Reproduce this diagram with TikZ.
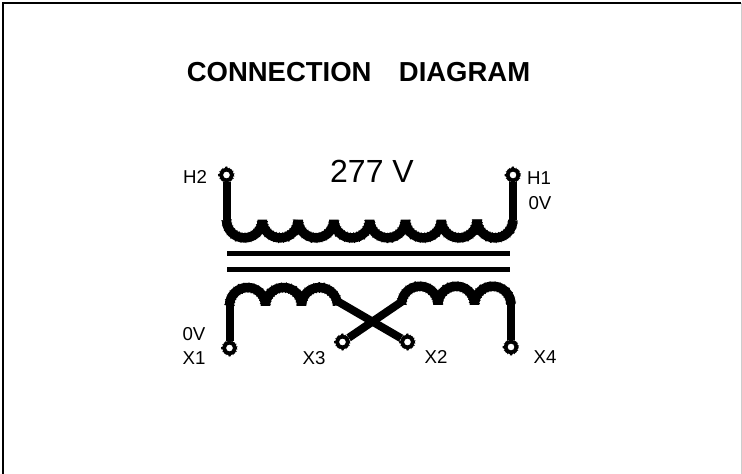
\documentclass[tikz,border=0pt]{standalone}
\usepackage{fontspec}
\setmainfont{Liberation Sans}
\tikzset{
  x=0.75pt,y=0.75pt,
  terminal/.style={draw,circle,line width=2.9pt,fill=white,inner sep=0pt,minimum size=8.3pt,
    preaction={draw,line width=4.2pt,dash pattern=on 0.5pt off 1.6pt}},
  winding/.style={draw,line width=6pt},
  coil/.style={draw,line width=7.1pt,line join=bevel,
    preaction={draw,line width=8pt,line join=bevel,dash pattern=on 0.5pt off 2.6pt}},
  core/.style={draw,line width=3.75pt},
  lbl/.style={inner sep=0pt,font=\fontsize{14}{16}\selectfont}
}
\begin{document}
\begin{tikzpicture}
\useasboundingbox (0,0) rectangle (742,474);
\path[draw,line width=1.5pt] (2.5,0) -- (2.5,471) -- (741,471);
\path[draw,line width=0.8pt,color=black!20] (741.3,471) -- (741.3,0);
\node[inner sep=0pt,font=\fontsize{20.6}{24}\bfseries\selectfont] (title) at (358.5,402) {CONNECTION\hspace{1em}DIAGRAM};
\node[inner sep=0pt,font=\fontsize{24}{28}\selectfont] (volt) at (372,303) {277 V};
% primary
\node[terminal] (h2) at (226.5,299) {};
\node[terminal] (h1) at (513,299) {};
\coordinate (pa) at (226.5,254);
\coordinate (pb) at (513,254);
\path[winding] (h2) -- (pa);
\path[winding] (pb) -- (h1);
\path[coil] (pa) arc[start angle=180,end angle=360,radius=17.9]
  arc[start angle=180,end angle=360,radius=17.9]
  arc[start angle=180,end angle=360,radius=17.9]
  arc[start angle=180,end angle=360,radius=17.9]
  arc[start angle=180,end angle=360,radius=17.9]
  arc[start angle=180,end angle=360,radius=17.9]
  arc[start angle=180,end angle=360,radius=17.9]
  arc[start angle=180,end angle=360,radius=17.9];
% core
\coordinate (ca) at (227,220.5);
\coordinate (cb) at (510,220.5);
\coordinate (cc) at (227,204);
\coordinate (cd) at (510,204);
\path[core] (ca) -- (cb);
\path[core] (cc) -- (cd);
% secondary
\node[terminal] (x1) at (229.5,126) {};
\node[terminal] (x3) at (342.5,132) {};
\node[terminal] (x2) at (407.5,132) {};
\node[terminal] (x4) at (511,127) {};
\coordinate (sa) at (229.5,168.5);
\coordinate (sb) at (401.5,169.5);
\coordinate (sc) at (511,169.5);
\coordinate (sd) at (337,173);
\coordinate (se) at (402,172.5);
\path[winding] (x1) -- (sa);
\path[winding] (sd) -- (x2);
\path[winding] (x3) -- (se);
\path[winding] (sc) -- (x4);
\path[coil] (sa) arc[start angle=180,end angle=0,radius=18]
  arc[start angle=180,end angle=0,radius=18]
  arc[start angle=180,end angle=0,radius=18];
\path[coil] (sb) arc[start angle=180,end angle=0,radius=18.25]
  arc[start angle=180,end angle=0,radius=18.25]
  arc[start angle=180,end angle=0,radius=18.25];
% labels
\node[lbl] (lh2) at (195,297) {H2};
\node[lbl] (lh1) at (539,296) {H1};
\node[lbl] (l0a) at (540,271) {0V};
\node[lbl] (l0b) at (194,140) {0V};
\node[lbl] (lx1) at (194,116) {X1};
\node[lbl] (lx3) at (314,116) {X3};
\node[lbl] (lx2) at (436,117) {X2};
\node[lbl] (lx4) at (545,117) {X4};
\end{tikzpicture}
\end{document}
